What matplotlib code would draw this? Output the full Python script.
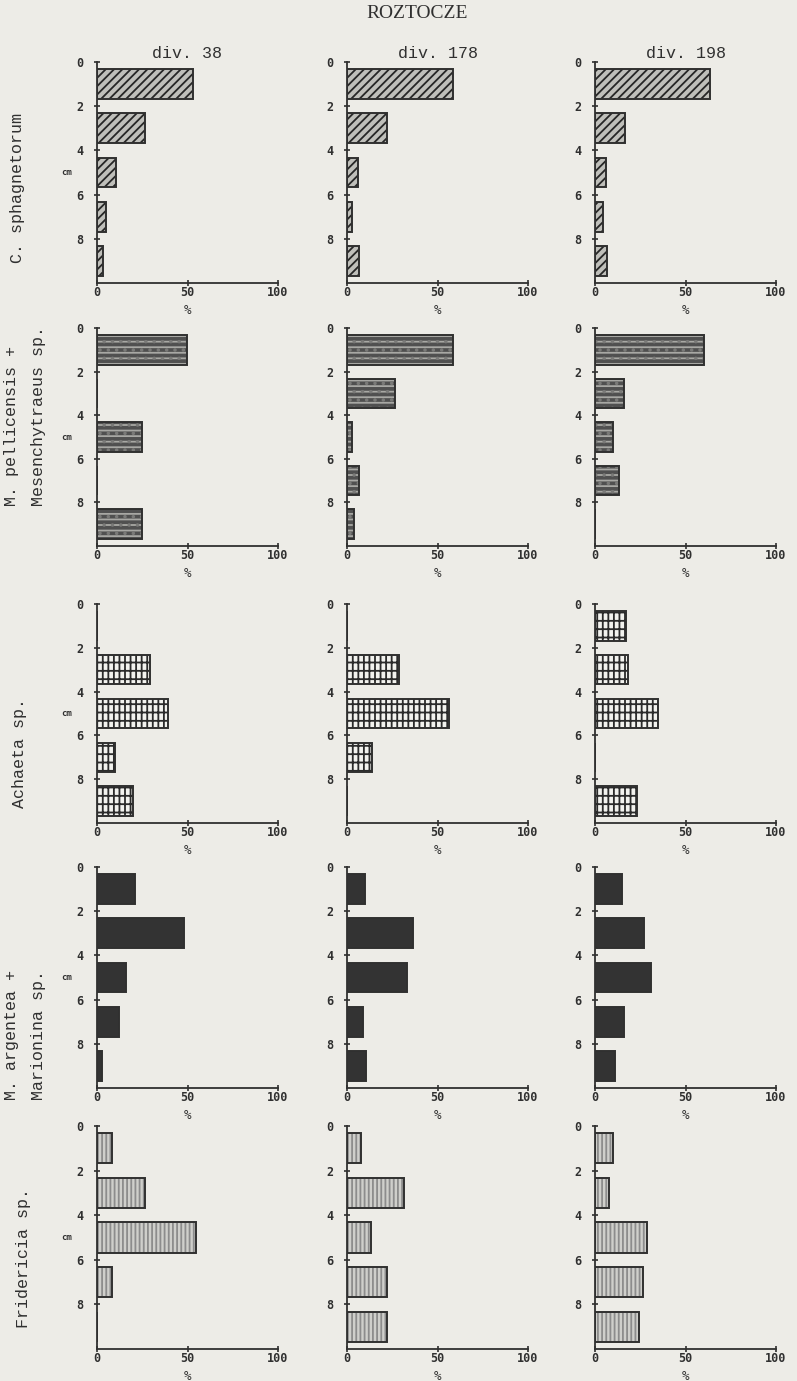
import matplotlib
matplotlib.use('Agg')
import matplotlib.pyplot as plt

# depth layers (cm, middle of each 2 cm layer) and axis ticks
depth = [1, 3, 5, 7, 9]
depth_ticks = [0, 2, 4, 6, 8]
pct_ticks = [0, 50, 100]
divisions = ['div. 38', 'div. 178', 'div. 198']

# share of individuals per layer (%), one list per division
c_sphagnetorum = [[53, 26.5, 10.5, 5, 3.5],
                  [58.5, 22, 6, 3, 6.5],
                  [63.5, 16.5, 6, 4.5, 6.5]]
m_pellicensis = [[49.5, 0, 25, 0, 25],
                 [58.5, 26.5, 3, 6.5, 4],
                 [60, 16, 10, 13, 0]]
achaeta = [[0, 29.5, 39.5, 10, 20],
           [0, 29, 56.5, 14, 0],
           [17, 18.5, 35, 0, 23]]
m_argentea = [[21, 48, 16, 12, 2.5],
              [10, 36.5, 33, 9, 10.5],
              [15, 27, 31, 16, 11]]
fridericia = [[8.5, 26.5, 54.5, 8.5, 0],
              [7.5, 31.5, 13.5, 22, 22],
              [10, 8, 29, 26.5, 24.5]]

taxa = [c_sphagnetorum, m_pellicensis, achaeta, m_argentea, fridericia]
row_labels = [['C. sphagnetorum'],
              ['M. pellicensis +', 'Mesenchytraeus sp.'],
              ['Achaeta sp.'],
              ['M. argentea +', 'Marionina sp.'],
              ['Fridericia sp.']]

# fill styles per row: face colour, hatch, hatch colour
styles = [('#bfbfba', '////', '#262626'),
          ('#505050', '---', '#a8a8a4'),
          ('#f2f2ee', '++|', '#2b2b2b'),
          ('#333333', '', '#333333'),
          ('#cfcfcb', '||||', '#8c8c8c')]

bg = '#edece7'
ink = '#303030'
W, H = 797, 1381
plt.rcParams['hatch.linewidth'] = 1.3

fig = plt.figure(figsize=(W / 100, H / 100), dpi=100, facecolor=bg)

lefts = [97, 347, 595]
width = 181
tops = [62, 328, 604, 867, 1126]
bottoms = [283, 546, 823, 1088, 1349]

for r, data in enumerate(taxa):
    face, hatch, hcol = styles[r]
    for c in range(3):
        ax = fig.add_axes([lefts[c] / W, 1 - bottoms[r] / H,
                           width / W, (bottoms[r] - tops[r]) / H])
        ax.set_facecolor('none')
        ax.barh(depth, data[c], height=1.35, color=face, edgecolor=hcol,
                hatch=hatch, linewidth=0)
        # second hatch layer for the speckled dark fill
        if r == 1:
            ax.barh(depth, data[c], height=1.35, fill=False,
                    edgecolor='#7a7a78', hatch='..', linewidth=0)
        ax.barh(depth, data[c], height=1.35, fill=False, edgecolor=ink,
                linewidth=1.4)
        ax.set_xlim(0, 100)
        ax.set_ylim(10, 0)
        ax.set_xticks(pct_ticks)
        ax.set_yticks(depth_ticks)
        for s in ['top', 'right']:
            ax.spines[s].set_visible(False)
        for s in ['left', 'bottom']:
            ax.spines[s].set_linewidth(1.3)
            ax.spines[s].set_color(ink)
        ax.tick_params(direction='inout', length=4, width=1.2, colors=ink,
                       labelsize=8.5)
        ax.tick_params(axis='y', pad=8)
        ax.tick_params(axis='x', pad=0.5)
        for lab in ax.get_xticklabels() + ax.get_yticklabels():
            lab.set_fontfamily('DejaVu Sans Mono')
            lab.set_fontweight('bold')
        ax.set_xlabel('%', fontsize=9, labelpad=3, family='DejaVu Sans Mono',
                      color=ink)
        if c == 0:
            ax.text(-0.17, 0.5, 'cm', transform=ax.transAxes, ha='center',
                    va='center', fontsize=6.5, fontweight='bold',
                    family='DejaVu Sans Mono', color=ink)
        if r == 0:
            fig.text((lefts[c] + width / 2) / W, 1 - 53 / H, divisions[c],
                     ha='center', va='center', fontsize=12,
                     family='Liberation Mono', color=ink)

# species names along the left edge
label_x = [[18], [12, 39], [20], [12, 39], [24]]
label_bottom = [263, 506, 808, 1100, 1328]
for r, lines in enumerate(row_labels):
    for x, line in zip(label_x[r], lines):
        fig.text(x / W, 1 - label_bottom[r] / H, line, rotation=90,
                 ha='center', va='bottom', fontsize=12,
                 family='Liberation Mono', color=ink)

fig.text(417 / W, 1 - 14 / H, 'ROZTOCZE', ha='center', va='center',
         fontsize=14, family='Liberation Serif', color=ink)

fig.savefig('out.png', dpi=100, facecolor=bg)
